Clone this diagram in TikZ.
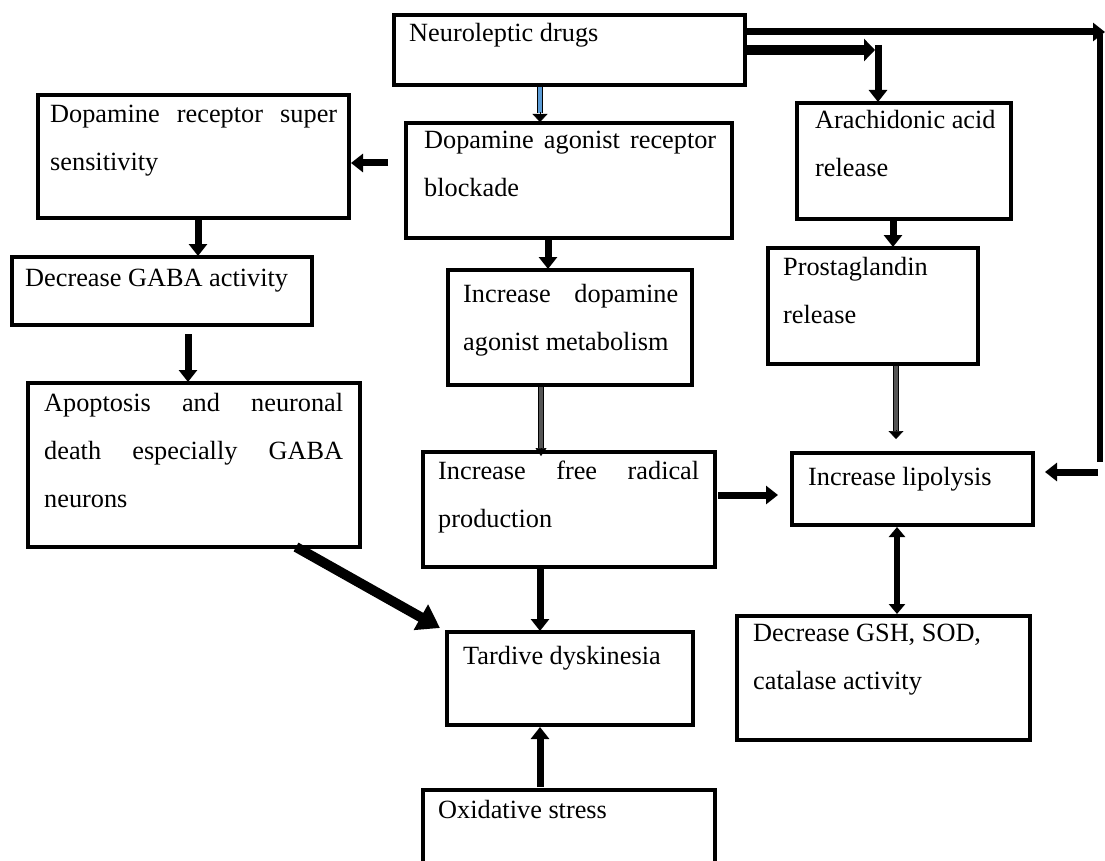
\documentclass[tikz,border=0pt]{standalone}
\usepackage{fontspec}
\setmainfont{Liberation Serif}
\usetikzlibrary{arrows.meta,calc}
\definecolor{steelb}{RGB}{91,155,213}
\definecolor{dgray}{RGB}{85,85,85}
\newcommand\jline[2]{\makebox[#1][s]{#2}}
\begin{document}
\begin{tikzpicture}[x=1pt,y=-1pt,
  box/.style={draw, line width=3.5pt, anchor=north west, inner sep=0pt, outer sep=0pt},
  txt/.style={anchor=base west, inner sep=0pt, font=\fontsize{26.3}{48}\selectfont},
  arr/.style={line width=7pt, -{Triangle[width=18pt,length=12pt]}},
  dblarr/.style={line width=6pt, {Triangle[width=16pt,length=10pt]}-{Triangle[width=16pt,length=10pt]}},
  bigarr/.style={line width=10pt, -{Triangle[width=28pt,length=22pt]}},
  hol/.style={draw=black, line width=1.4pt, double distance=3.4pt},
  holtip/.style={line width=0.5pt, -{Triangle[width=#1,length=8pt]}},
  plain/.style={line width=6.5pt}
]
\clip (0,0) rectangle (1105,861);
\fill[white] (0,0) rectangle (1105,861);

% boxes
\node[box, minimum width=351pt, minimum height=70pt] (nd) at (394,15) {};
\node[box, minimum width=326pt, minimum height=115pt] (dab) at (406,123) {};
\node[box, minimum width=311pt, minimum height=123pt] (drs) at (38,95) {};
\node[box, minimum width=300pt, minimum height=68pt] (gaba) at (12,257) {};
\node[box, minimum width=332pt, minimum height=164pt] (apo) at (28,383) {};
\node[box, minimum width=244pt, minimum height=115pt] (idm) at (448,270) {};
\node[box, minimum width=292pt, minimum height=115pt] (ifr) at (423,452) {};
\node[box, minimum width=241pt, minimum height=72pt] (lip) at (792,453) {};
\node[box, minimum width=246pt, minimum height=93pt] (td) at (447,632) {};
\node[box, minimum width=292pt, minimum height=120pt] (ox) at (423,790) {};
\node[box, minimum width=214pt, minimum height=116pt] (ara) at (797,103) {};
\node[box, minimum width=210pt, minimum height=116pt] (pg) at (768,248) {};
\node[box, minimum width=293pt, minimum height=124pt] (gsh) at (737,616) {};

% texts
\node[txt] (tnd) at (409,42) {Neuroleptic drugs};
\node[txt] (tdab) at (424,149) {\parbox[t]{310pt}{\jline{292pt}{Dopamine agonist receptor}\\blockade}};
\node[txt] (tdrs) at (50,123) {\parbox[t]{300pt}{\jline{287pt}{Dopamine receptor super}\\sensitivity}};
\node[txt] (tgaba) at (25,286) {Decrease GABA activity};
\node[txt] (tapo) at (44,411) {\parbox[t]{310pt}{\jline{299pt}{Apoptosis and neuronal}\\\jline{299pt}{death especially GABA}\\neurons}};
\node[txt] (tidm) at (463,302) {\parbox[t]{230pt}{\jline{215pt}{Increase dopamine}\\agonist metabolism}};
\node[txt] (tifr) at (438,479) {\parbox[t]{280pt}{\jline{261pt}{Increase free radical}\\production}};
\node[txt] (tlip) at (808,485) {Increase lipolysis};
\node[txt] (ttd) at (463,664) {Tardive dyskinesia};
\node[txt] (tox) at (438,818) {Oxidative stress};
\node[txt] (tara) at (815,129) {\parbox[t]{200pt}{Arachidonic acid\\release}};
\node[txt] (tpg) at (783,275) {\parbox[t]{200pt}{Prostaglandin\\release}};
\node[txt] (tgsh) at (753,641) {\parbox[t]{280pt}{Decrease GSH, SOD,\\catalase activity}};

% free ends
\coordinate (c1) at (1105,32);
\coordinate (c2) at (1100,34);
\coordinate (c3) at (1100,462);
\coordinate (c4) at (1098,472);
\coordinate (c5) at (875,50);
\coordinate (c6) at (878,45);

% connectors
\draw[hol, double=steelb] ($(nd.south west)+(146,2)$) -- ($(dab.north west)+(134,-10)$);
\draw[holtip=15pt] ($(dab.north west)+(134,-11)$) -- ($(dab.north west)+(134,-1)$);

\draw[arr] ($(dab.north west)+(-18,40)$) -- ($(drs.north east)+(2,68)$);
\draw[arr] ($(drs.south west)+(160,0)$) -- ($(gaba.north west)+(186,-1)$);
\draw[arr] ($(gaba.south west)+(176,9)$) -- ($(apo.north west)+(160,-1)$);
\draw[bigarr] ($(apo.south west)+(268,0)$) -- ($(td.north west)+(-7,-4)$);
\draw[arr] ($(dab.south west)+(142,0)$) -- ($(idm.north west)+(100,-1)$);

\draw[hol, double=dgray] ($(idm.south west)+(93,2)$) -- ($(ifr.north west)+(118,-4)$);
\draw[holtip=11pt] ($(ifr.north west)+(118,-4)$) -- ($(ifr.north west)+(118,4)$);

\draw[arr] ($(ifr.north east)+(3,43)$) -- ($(lip.north west)+(-14,42)$);
\draw[arr] ($(ifr.south west)+(117,0)$) -- ($(td.north west)+(93,-1)$);
\draw[arr] ($(ox.north west)+(117,-3)$) -- ($(td.south west)+(93,2)$);

\draw[arr] ($(nd.north east)+(1,17)$) -- (c1);
\draw[plain] (c2) -- (c3);
\draw[arr] (c4) -- ($(lip.north east)+(12,19)$);

\draw[line width=10pt, -{Triangle[width=22pt,length=11pt]}] ($(nd.north east)+(1,35)$) -- (c5);
\draw[arr] (c6) -- ($(ara.north west)+(81,-1)$);

\draw[arr] ($(ara.south west)+(96,0)$) -- ($(pg.north west)+(125,-1)$);

\draw[hol, double=dgray] ($(pg.south west)+(128,2)$) -- ($(lip.north west)+(104,-22)$);
\draw[holtip=15pt] ($(lip.north west)+(104,-23)$) -- ($(lip.north west)+(104,-14)$);

\draw[dblarr] ($(lip.south west)+(105,2)$) -- ($(gsh.north west)+(160,-2)$);
\end{tikzpicture}
\end{document}
